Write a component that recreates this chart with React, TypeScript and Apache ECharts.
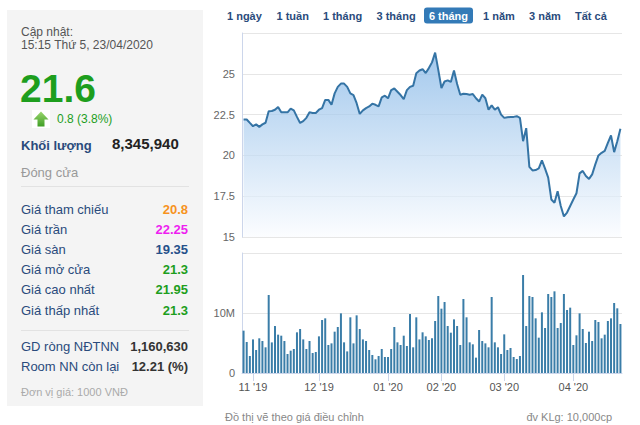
import { useEffect, useRef } from 'react';
import * as echarts from 'echarts';

// ---- Trading days (Oct 29 2019 .. Apr 23 2020) ----
const octDays = [29, 30, 31];
const novDays = [1, 4, 5, 6, 7, 8, 11, 12, 13, 14, 15, 18, 19, 20, 21, 22, 25, 26, 27, 28, 29];
const decDays = [2, 3, 4, 5, 6, 9, 10, 11, 12, 13, 16, 17, 18, 19, 20, 23, 24, 25, 26, 27, 30, 31];
const janDays = [2, 3, 6, 7, 8, 9, 10, 13, 14, 15, 16, 17, 20, 21, 22, 30, 31];
const febDays = [3, 4, 5, 6, 7, 10, 11, 12, 13, 14, 17, 18, 19, 20, 21, 24, 25, 26, 27, 28];
const marDays = [2, 3, 4, 5, 6, 9, 10, 11, 12, 13, 16, 17, 18, 19, 20, 23, 24, 25, 26, 27, 30, 31];
const aprDays = [1, 3, 6, 7, 8, 9, 10, 13, 14, 15, 16, 17, 20, 21, 22, 23];
const monthNames = ['10', '11', '12', '01', '02', '03', '04'];
const monthYears = ['19', '19', '19', '20', '20', '20', '20'];
const monthDays = [octDays, novDays, decDays, janDays, febDays, marDays, aprDays];

// ---- Close price (thousand VND) ----
const prices = [
  22.2, 22.2, 21.99, 21.79, 21.9, 21.75, 21.9, 22.0, 22.7, 22.72,
  22.8, 22.97, 22.64, 22.64, 22.64, 22.87, 22.76, 22.36, 21.99, 22.1,
  22.3, 22.64, 22.6, 22.6, 22.8, 22.9, 23.4, 23.4, 23.1, 23.8,
  24.2, 24.4, 24.4, 24.2, 23.8, 23.7, 23.2, 22.54, 22.76, 22.9,
  23.0, 23.17, 23.1, 23.0, 23.56, 23.66, 23.5, 24.0, 24.1, 23.9,
  23.7, 23.45, 24.0, 24.2, 24.27, 25.04, 25.2, 25.28, 25.05, 25.35,
  25.7, 26.3, 25.24, 24.13, 24.53, 24.6, 24.5, 25.2, 24.37, 23.72,
  23.78, 23.76, 23.72, 23.76, 23.5, 23.3, 23.72, 23.5, 22.8, 23.07,
  22.8, 22.95, 22.5, 22.3, 22.34, 22.36, 22.36, 22.4, 22.3, 20.87,
  21.67, 19.3, 19.08, 19.1, 19.2, 19.7, 19.19, 18.64, 17.3, 17.1,
  17.8, 16.9, 16.26, 16.5, 16.9, 17.3, 17.68, 18.9, 19.05, 18.74,
  18.56, 18.84, 19.45, 20.0, 20.16, 20.28, 20.77, 21.22, 20.2, 20.87,
  21.63,
];

// ---- Volume (millions of shares) ----
const volumesM = [
  7.06, 5.17, 2.83, 5.6, 3.83, 5.78, 5.33, 4.28, 13.0, 5.1,
  7.83, 6.39, 6.22, 5.33, 3.17, 3.72, 4.0, 6.78, 7.33, 5.6,
  4.0, 5.33, 3.33, 3.5, 6.11, 8.83, 9.11, 4.67, 4.94, 6.89,
  7.67, 9.94, 5.11, 3.6, 9.28, 4.94, 9.61, 7.33, 5.6, 5.33,
  3.83, 3.0, 2.28, 2.83, 4.0, 2.67, 2.67, 4.0, 7.67, 5.11,
  4.67, 6.22, 4.5, 9.83, 4.28, 9.28, 5.6, 6.78, 6.11, 5.5,
  5.78, 8.67, 12.83, 10.72, 11.83, 7.83, 6.72, 8.94, 7.83, 4.67,
  12.33, 9.28, 5.11, 4.78, 2.56, 7.17, 5.33, 4.94, 4.28, 12.67,
  5.11, 4.28, 3.17, 6.44, 3.83, 4.17, 2.67, 2.33, 2.83, 16.33,
  7.83, 12.83, 12.67, 9.11, 5.89, 10.11, 7.5, 13.17, 12.67, 13.61,
  7.5, 8.33, 13.17, 10.5, 10.89, 4.67, 6.28, 9.94, 7.33, 5.0,
  6.89, 5.33, 8.83, 8.5, 5.78, 6.39, 8.67, 9.11, 11.67, 10.78,
  8.17,
];

// ---- Texts ----
const updateLabel = 'Cập nhật:';
const updateTime = '15:15 Thứ 5, 23/04/2020';
const lastPrice = '21.6';
const change = '0.8 (3.8%)';
const volumeLabel = 'Khối lượng';
const volumeValue = '8,345,940';
const closeLabel = 'Đóng cửa';
const infoLabels = ['Giá tham chiếu', 'Giá trần', 'Giá sàn', 'Giá mở cửa', 'Giá cao nhất', 'Giá thấp nhất'];
const infoValues = ['20.8', '22.25', '19.35', '21.3', '21.95', '21.3'];
const foreignLabels = ['GD ròng NĐTNN', 'Room NN còn lại'];
const foreignValues = ['1,160,630', '12.21 (%)'];
const unitNote = 'Đơn vị giá: 1000 VNĐ';
const rangeButtons = ['1 ngày', '1 tuần', '1 tháng', '3 tháng', '6 tháng', '1 năm', '3 năm', 'Tất cả'];
const activeRange = '6 tháng';
const footLeft = 'Đồ thị vẽ theo giá điều chỉnh';
const footRight = 'đv KLg: 10,000cp';

// ---- Styles / layout ----
const FONT = 'Arial, "Liberation Sans", Helvetica, sans-serif';
const infoColors = ['#f7931e', '#ee1ff0', '#25508a', '#1d9e1d', '#1d9e1d', '#1d9e1d'];
const rangeX = [227, 276.5, 323, 376.5, 424, 483, 529, 575];
const LABEL_BLUE = '#2a4b7c';
const GREEN = '#1d9e1d';

export default function App() {
  const ref = useRef<HTMLDivElement>(null);

  useEffect(() => {
    if (!ref.current) return;
    const chart = echarts.init(ref.current, undefined, { renderer: 'svg' });

    const categories: string[] = [];
    const monthLabelAt: Record<number, string> = {};
    monthDays.forEach((days, m) => {
      days.forEach((d, k) => {
        if (k === 0 && m > 0) monthLabelAt[categories.length] = `${monthNames[m]} '${monthYears[m]}`;
        categories.push(`${String(d).padStart(2, '0')}/${monthNames[m]}/20${monthYears[m]}`);
      });
    });
    const isMonthStart = (idx: number) => monthLabelAt[idx] !== undefined;

    const t = (text: string, x: number, y: number, size: number, fill: string, weight: string = 'normal', align: string = 'left') => ({
      type: 'text', x, y, silent: true,
      style: { text, fill, fontSize: size, fontWeight: weight, fontFamily: FONT, textAlign: align, textVerticalAlign: 'middle' },
    });

    const graphics: any[] = [
      { type: 'rect', shape: { x: 7, y: 10, width: 196, height: 396 }, style: { fill: '#f4f4f4' }, silent: true },
      t(updateLabel, 21, 32, 12, '#555'),
      t(updateTime, 21, 45, 12, '#555'),
      t(lastPrice, 20, 88, 39, GREEN, 'bold'),
      { type: 'rect', shape: { x: 32, y: 110, width: 18, height: 18 }, style: { fill: '#ffffff' }, silent: true },
      {
        type: 'polygon', silent: true,
        shape: { points: [[41, 111.5], [48.5, 119.5], [44.5, 119.5], [44.5, 126.5], [37.5, 126.5], [37.5, 119.5], [33.5, 119.5]] },
        style: { fill: new echarts.graphic.LinearGradient(0, 0, 0, 1, [{ offset: 0, color: '#9ad66e' }, { offset: 1, color: '#3f9e25' }]) },
      },
      t(change, 57, 119, 12, GREEN),
      t(volumeLabel, 21, 145, 13, LABEL_BLUE, 'bold'),
      t(volumeValue, 112, 143, 15, '#222', 'bold'),
      t(closeLabel, 21, 172, 13, '#999'),
      { type: 'line', shape: { x1: 21, y1: 186.5, x2: 189, y2: 186.5 }, style: { stroke: '#e2e2e2', lineWidth: 1 }, silent: true },
      { type: 'line', shape: { x1: 21, y1: 330.5, x2: 189, y2: 330.5 }, style: { stroke: '#e2e2e2', lineWidth: 1 }, silent: true },
      t(unitNote, 21, 392, 11, '#aaa'),
      t(footLeft, 225, 417, 11, '#888'),
      t(footRight, 612, 417, 11, '#888', 'normal', 'right'),
    ];
    infoLabels.forEach((lab, i) => {
      const y = 209 + i * 20.2;
      graphics.push(t(lab, 21, y, 13, LABEL_BLUE));
      graphics.push(t(infoValues[i], 188, y, 13, infoColors[i], 'bold', 'right'));
    });
    foreignLabels.forEach((lab, i) => {
      const y = 346 + i * 20;
      graphics.push(t(lab, 21, y, 13, LABEL_BLUE));
      graphics.push(t(foreignValues[i], 188, y, 13, '#333', 'bold', 'right'));
    });
    rangeButtons.forEach((b, i) => {
      if (b === activeRange) {
        graphics.push({ type: 'rect', shape: { x: rangeX[i], y: 7.5, width: 49, height: 16, r: 3 }, style: { fill: '#337ab7' }, silent: true });
        graphics.push(t(b, rangeX[i] + 24.5, 16, 11, '#ffffff', 'bold', 'center'));
      } else {
        graphics.push(t(b, rangeX[i], 16, 11, LABEL_BLUE, 'bold'));
      }
    });

    const axisLabelStyle = { color: '#666', fontSize: 11, fontFamily: FONT };

    chart.setOption({
      animation: false,
      textStyle: { fontFamily: FONT },
      grid: [
        { left: 242, top: 33, width: 380, height: 204 },
        { left: 242, top: 253, width: 380, height: 120 },
      ],
      xAxis: [
        {
          type: 'category', gridIndex: 0, data: categories, boundaryGap: true,
          axisLine: { show: false }, axisTick: { show: false }, axisLabel: { show: false }, splitLine: { show: false },
        },
        {
          type: 'category', gridIndex: 1, data: categories, boundaryGap: true,
          axisLine: { show: true, lineStyle: { color: '#ccd6eb' } },
          axisTick: { show: true, alignWithLabel: true, interval: (i: number) => isMonthStart(i), length: 8, lineStyle: { color: '#ccd6eb' } },
          axisLabel: {
            ...axisLabelStyle, color: '#555', margin: 8,
            interval: (i: number) => isMonthStart(i),
            formatter: (_v: string, i: number) => monthLabelAt[i] ?? '',
          },
          splitLine: { show: false },
        },
      ],
      yAxis: [
        {
          type: 'value', gridIndex: 0, min: 15, max: 27.5, interval: 2.5,
          axisLine: { show: true, lineStyle: { color: '#ccd6eb' } }, axisTick: { show: false },
          splitLine: { show: true, lineStyle: { color: '#e6e6e6' } },
          axisLabel: { ...axisLabelStyle, margin: 7, formatter: (v: number) => (v === 27.5 ? '' : String(v)) },
        },
        {
          type: 'value', gridIndex: 1, min: 0, max: 20, interval: 10,
          axisLine: { show: true, lineStyle: { color: '#ccd6eb' } }, axisTick: { show: false },
          splitLine: { show: true, lineStyle: { color: '#e6e6e6' } },
          axisLabel: { ...axisLabelStyle, margin: 7, formatter: (v: number) => (v === 0 ? '0' : v === 10 ? '10M' : '') },
        },
      ],
      series: [
        {
          type: 'line', xAxisIndex: 0, yAxisIndex: 0, data: prices, symbol: 'none', smooth: false,
          lineStyle: { color: '#3574a5', width: 2 },
          areaStyle: {
            origin: 'start',
            color: new echarts.graphic.LinearGradient(0, 0, 0, 1, [
              { offset: 0, color: '#7db2e5' },
              { offset: 1, color: '#fafcff' },
            ]),
          },
        },
        {
          type: 'bar', xAxisIndex: 1, yAxisIndex: 1, data: volumesM, barWidth: 2,
          itemStyle: { color: '#3a7da8' },
        },
      ],
      graphic: graphics,
    });

    return () => chart.dispose();
  }, []);

  return <div ref={ref} style={{ position: 'fixed', left: 0, top: 0, width: 640, height: 425, background: '#fff' }} />;
}
